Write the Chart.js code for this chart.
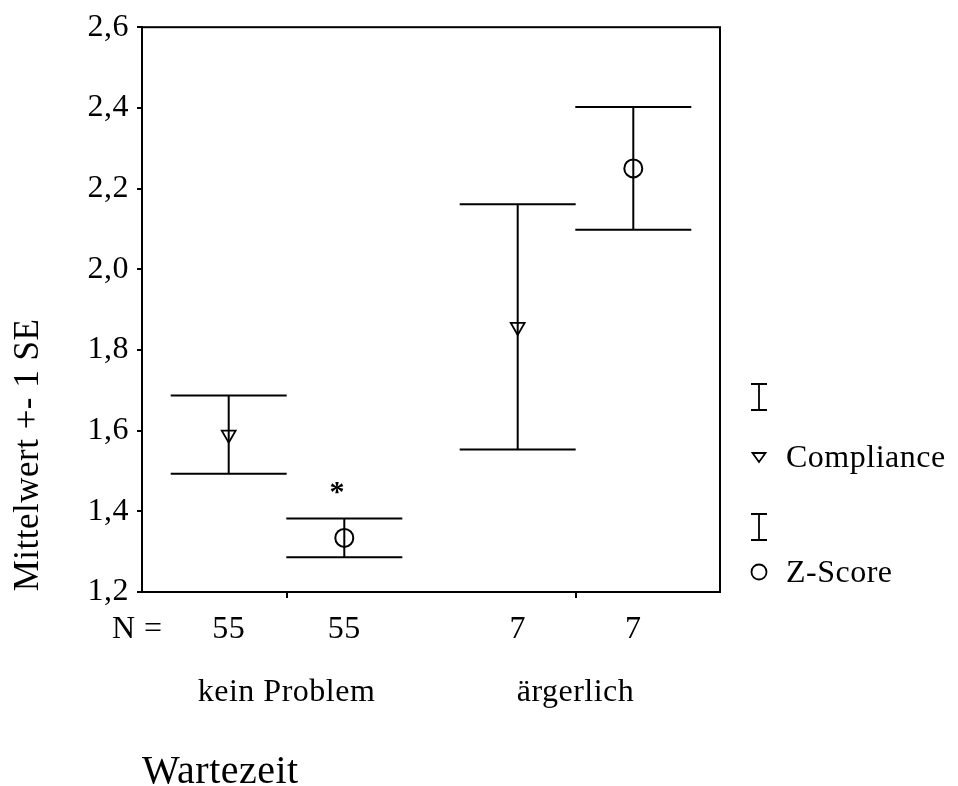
<!DOCTYPE html>
<html>
<head>
<meta charset="utf-8">
<script src="https://cdn.jsdelivr.net/npm/chart.js@4.4.0/dist/chart.umd.min.js"></script>
<style>
  html, body { margin: 0; padding: 0; background: #fff; }
  #wrap { width: 958px; height: 786px; }
</style>
</head>
<body>
<div id="wrap"><canvas id="chart" width="958" height="786"></canvas></div>
<script>
// Mittelwerte +- 1 Standardfehler je Gruppe
const groups = ['kein Problem', 'ärgerlich'];
const complianceMean = [1.590, 1.857];
const complianceSE = [0.097, 0.304];
const zScoreMean = [1.334, 2.250];
const zScoreSE = [0.048, 0.152];
const complianceN = [55, 7];
const zScoreN = [55, 7];
const zScoreFlag = ['*', ''];

const yMin = 1.2, yMax = 2.6, yStep = 0.2;
const axisTitle = 'Mittelwert +- 1 SE';
const groupTitle = 'Wartezeit';
const seriesNames = ['Compliance', 'Z-Score'];

// group centres on a 0..5 x scale, the two series sit half a unit either side
const groupCenters = [1.25, 3.75];
const CAP = 58;
const serif = "'Liberation Serif', 'Times New Roman', serif";

function fmt(v) {
  return v.toFixed(1).replace('.', ',');
}

const errorBars = {
  id: 'errorBars',
  beforeDraw(chart) {
    chart.ctx.letterSpacing = '0.5px';
  },
  beforeDatasetsDraw(chart) {
    const { ctx, scales: { x, y } } = chart;
    ctx.save();
    ctx.strokeStyle = '#000';
    ctx.lineWidth = 2;
    chart.data.datasets.forEach(ds => {
      ds.data.forEach((p, i) => {
        const px = x.getPixelForValue(p.x);
        const top = y.getPixelForValue(p.y + ds.se[i]);
        const bot = y.getPixelForValue(p.y - ds.se[i]);
        ctx.beginPath();
        ctx.moveTo(px, top); ctx.lineTo(px, bot);
        ctx.moveTo(px - CAP, top); ctx.lineTo(px + CAP, top);
        ctx.moveTo(px - CAP, bot); ctx.lineTo(px + CAP, bot);
        ctx.stroke();
      });
    });
    ctx.restore();
  },
  afterDraw(chart) {
    const { ctx, chartArea: a, scales: { x, y } } = chart;
    ctx.save();

    // frame around the plot
    ctx.strokeStyle = '#000';
    ctx.lineWidth = 2;
    ctx.strokeRect(a.left, a.top, a.right - a.left, a.bottom - a.top);

    ctx.fillStyle = '#000';
    ctx.letterSpacing = '0.5px';
    ctx.font = '32px ' + serif;
    ctx.textBaseline = 'alphabetic';

    // N row
    ctx.textAlign = 'left';
    ctx.fillText('N =', 112, 638);
    ctx.textAlign = 'center';
    groupCenters.forEach((c, g) => {
      ctx.fillText(String(complianceN[g]), x.getPixelForValue(c - 0.5), 638);
      ctx.fillText(String(zScoreN[g]), x.getPixelForValue(c + 0.5), 638);
      ctx.fillText(groups[g], x.getPixelForValue(c), 701);
    });

    // flag above the Z-Score bar
    ctx.font = 'bold 30px ' + serif;
    groupCenters.forEach((c, g) => {
      if (!zScoreFlag[g]) return;
      const px = x.getPixelForValue(c + 0.5) - 7;
      const py = y.getPixelForValue(zScoreMean[g] + zScoreSE[g]) - 18;
      ctx.fillText(zScoreFlag[g], px, py);
    });

    // group axis title
    ctx.font = '40px ' + serif;
    ctx.textAlign = 'left';
    ctx.fillText(groupTitle, 142, 783);

    // value axis title
    ctx.save();
    ctx.translate(38, 455);
    ctx.rotate(-Math.PI / 2);
    ctx.font = '35px ' + serif;
    ctx.textAlign = 'center';
    ctx.fillText(axisTitle, 0, 0);
    ctx.restore();

    // legend
    const lx = 759;
    ctx.lineWidth = 1.8;
    const beam = (cy) => {
      ctx.beginPath();
      ctx.moveTo(lx, cy - 13); ctx.lineTo(lx, cy + 13);
      ctx.moveTo(lx - 8, cy - 13); ctx.lineTo(lx + 8, cy - 13);
      ctx.moveTo(lx - 8, cy + 13); ctx.lineTo(lx + 8, cy + 13);
      ctx.stroke();
    };
    beam(397);
    beam(527);
    ctx.beginPath();
    ctx.moveTo(lx - 6.5, 453); ctx.lineTo(lx + 6.5, 453); ctx.lineTo(lx, 462);
    ctx.closePath();
    ctx.stroke();
    ctx.beginPath();
    ctx.arc(lx, 572, 7.5, 0, Math.PI * 2);
    ctx.stroke();

    ctx.font = '32px ' + serif;
    ctx.textAlign = 'left';
    ctx.fillText(seriesNames[0], 786, 467);
    ctx.fillText(seriesNames[1], 786, 582);

    ctx.restore();
  }
};

const chart = new Chart(document.getElementById('chart'), {
  type: 'scatter',
  data: {
    datasets: [
      {
        label: seriesNames[0],
        data: groupCenters.map((c, i) => ({ x: c - 0.5, y: complianceMean[i] })),
        se: complianceSE,
        pointStyle: 'triangle',
        rotation: 180,
        radius: 8,
        borderWidth: 1.8,
        borderColor: '#000',
        backgroundColor: 'rgba(0,0,0,0)'
      },
      {
        label: seriesNames[1],
        data: groupCenters.map((c, i) => ({ x: c + 0.5, y: zScoreMean[i] })),
        se: zScoreSE,
        pointStyle: 'circle',
        radius: 9,
        borderWidth: 2,
        borderColor: '#000',
        backgroundColor: 'rgba(0,0,0,0)'
      }
    ]
  },
  options: {
    responsive: false,
    animation: false,
    layout: { padding: { left: 0, top: 24, right: 238, bottom: 0 } },
    plugins: {
      legend: { display: false },
      tooltip: { enabled: false }
    },
    scales: {
      x: {
        type: 'linear',
        min: 0,
        max: 5,
        afterBuildTicks: scale => {
          scale.ticks = groupCenters.map(v => ({ value: v }));
        },
        afterFit: scale => { scale.height = 194; },
        ticks: { callback: () => '', font: { family: serif, size: 30 } },
        grid: { drawOnChartArea: false, color: '#000', lineWidth: 2, tickLength: 6 },
        border: { display: true, color: '#000', width: 2 }
      },
      y: {
        min: yMin,
        max: yMax,
        afterFit: scale => { scale.width = 142; },
        ticks: {
          stepSize: yStep,
          padding: 8,
          color: '#000',
          font: { family: serif, size: 32 },
          callback: v => fmt(v)
        },
        grid: { drawOnChartArea: false, color: '#000', lineWidth: 2, tickLength: 5 },
        border: { display: true, color: '#000', width: 2 }
      }
    }
  },
  plugins: [errorBars]
});
</script>
</body>
</html>
